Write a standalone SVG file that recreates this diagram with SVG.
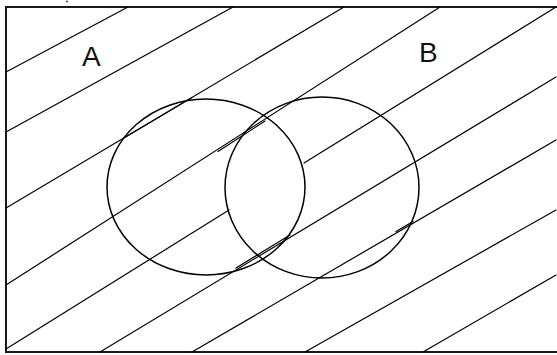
<svg xmlns="http://www.w3.org/2000/svg" width="557" height="355" viewBox="0 0 557 355">
<style>
.frame{fill:none;stroke:#1a1a1a;stroke-width:2}
.hatch{fill:none;stroke:#000;stroke-width:1.2;stroke-linecap:round}
.set{fill:none;stroke:#000;stroke-width:1.5}
.lbl{font-family:"Liberation Sans",Arial,sans-serif;font-size:28px;fill:#111}
</style>
<rect width="557" height="355" fill="#fff"/>
<g id="frame">
<path class="frame" d="M560,7 H6 V352 H560"/>
<circle cx="67" cy="1.5" r="0.9" fill="#333"/>
</g>
<g id="hatching">
<line class="hatch" x1="6" y1="72" x2="128" y2="7"/>
<line class="hatch" x1="6" y1="132" x2="233" y2="7"/>
<line class="hatch" x1="6" y1="208" x2="344" y2="7"/>
<line class="hatch" x1="123" y1="138.5" x2="192" y2="97.5"/>
<line class="hatch" x1="6" y1="285" x2="440" y2="7"/>
<line class="hatch" x1="218" y1="151.5" x2="265" y2="121"/>
<line class="hatch" x1="6" y1="349" x2="229" y2="210"/>
<line class="hatch" x1="304" y1="163" x2="556" y2="7"/>
<line class="hatch" x1="100" y1="352" x2="556" y2="77"/>
<line class="hatch" x1="236" y1="268" x2="290" y2="235"/>
<line class="hatch" x1="192" y1="352" x2="556" y2="140"/>
<line class="hatch" x1="396" y1="231.5" x2="413" y2="221.5"/>
<line class="hatch" x1="305" y1="352" x2="556" y2="210"/>
<line class="hatch" x1="423" y1="352" x2="556" y2="275"/>
</g>
<g id="setA">
<ellipse class="set" cx="206" cy="187" rx="99" ry="88"/>
<text class="lbl" x="82" y="66">A</text>
</g>
<g id="setB">
<ellipse class="set" cx="322" cy="187.5" rx="97" ry="90.5"/>
<text class="lbl" x="419" y="62">B</text>
</g>
</svg>
